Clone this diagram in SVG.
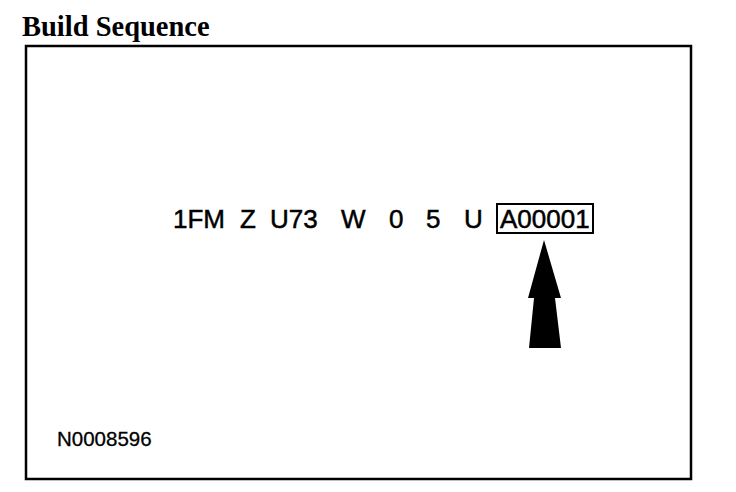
<svg xmlns="http://www.w3.org/2000/svg" width="736" height="492" viewBox="0 0 736 492">
<style>
.t{font-family:"Liberation Sans",Arial,sans-serif;fill:#000;stroke:#000;stroke-width:0.5}
.big{font-size:26px}
</style>
<rect width="736" height="492" fill="#fff"/>
<text x="22" y="36" font-family="Liberation Serif,'Times New Roman',serif" font-weight="bold" font-size="28.5">Build Sequence</text>
<rect x="26" y="46" width="665" height="433" fill="none" stroke="#000" stroke-width="2.5"/>
<g id="vin">
<text class="t big" x="173" y="228">1FM</text>
<text class="t big" x="240" y="228">Z</text>
<text class="t big" x="270" y="228">U73</text>
<text class="t big" x="341" y="228">W</text>
<text class="t big" x="389" y="228">0</text>
<text class="t big" x="426" y="228">5</text>
<text class="t big" x="464" y="228">U</text>
</g>
<g id="serial">
<rect x="497" y="204" width="96" height="29" fill="none" stroke="#000" stroke-width="2"/>
<text class="t big" x="500" y="228">A00001</text>
</g>
<g id="arrow">
<polygon points="544,240 561,298 555,298 561,348 529,348 534,298 528,298" fill="#000"/>
</g>
<text class="t" x="57" y="446" font-size="20.5" style="stroke-width:0.3">N0008596</text>
</svg>
